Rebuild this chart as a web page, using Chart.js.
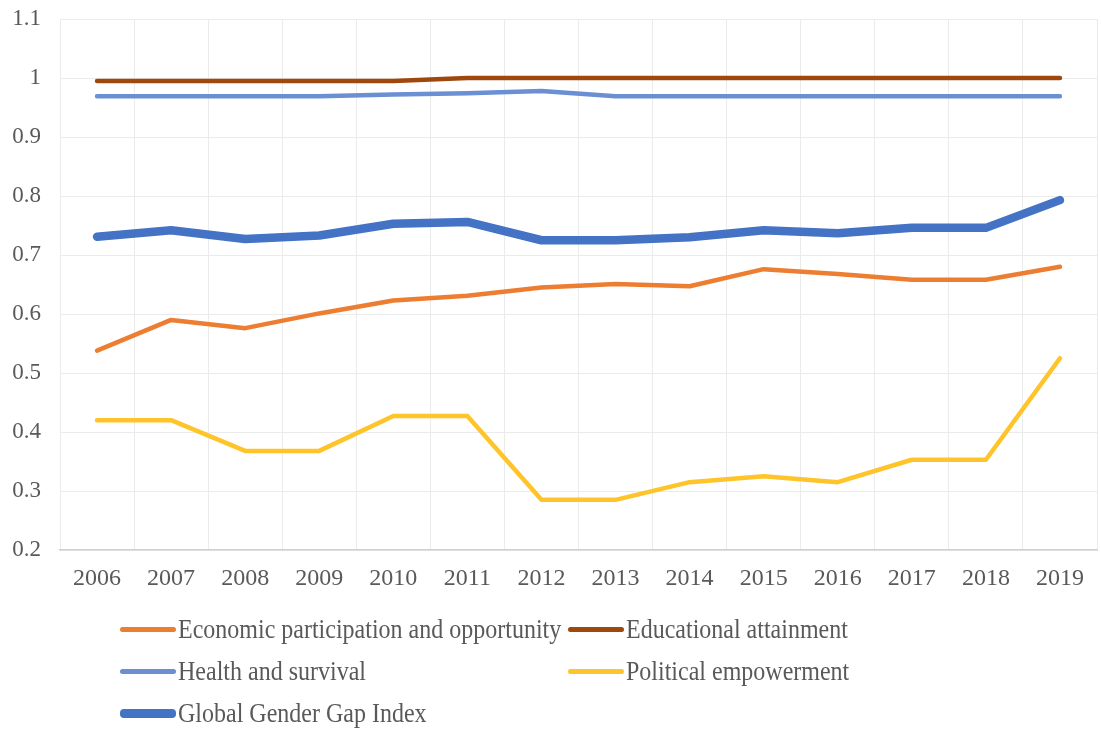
<!DOCTYPE html>
<html>
<head>
<meta charset="utf-8">
<script src="https://cdn.jsdelivr.net/npm/chart.js@4.4.1/dist/chart.umd.min.js"></script>
<style>
  html, body { margin: 0; padding: 0; background: #fff; }
  #wrap { position: relative; width: 1101px; height: 729px; }
  #c { position: absolute; left: 0; top: 0; }
  #legend { position: absolute; left: 0; top: 0; width: 1101px; height: 729px; pointer-events: none;
            font-family: "Liberation Serif", "Times New Roman", serif; font-size: 24px; color: #595959; }
  .item { position: absolute; display: flex; align-items: center; white-space: nowrap; height: 30px; }
  .swatch { width: 56px; border-radius: 4px; margin-right: 2px; }
  .txt { display: inline-block; transform: scaleY(1.15); transform-origin: center; }
</style>
</head>
<body>
<div id="wrap">
  <canvas id="c" width="1101" height="729"></canvas>
  <div id="legend"></div>
</div>
<script>
const years = ['2006','2007','2008','2009','2010','2011','2012','2013','2014','2015','2016','2017','2018','2019'];
const economic    = [0.538, 0.590, 0.576, 0.601, 0.623, 0.631, 0.645, 0.651, 0.647, 0.676, 0.668, 0.658, 0.658, 0.680];
const educational = [0.995, 0.995, 0.995, 0.995, 0.995, 1.000, 1.000, 1.000, 1.000, 1.000, 1.000, 1.000, 1.000, 1.000];
const health      = [0.969, 0.969, 0.969, 0.969, 0.972, 0.974, 0.978, 0.969, 0.969, 0.969, 0.969, 0.969, 0.969, 0.969];
const political   = [0.420, 0.420, 0.368, 0.368, 0.427, 0.427, 0.285, 0.285, 0.315, 0.325, 0.315, 0.353, 0.353, 0.525];
const gggi        = [0.731, 0.742, 0.727, 0.733, 0.753, 0.756, 0.725, 0.725, 0.730, 0.742, 0.737, 0.746, 0.746, 0.793];
const seriesNames = ['Economic participation and opportunity', 'Educational attainment', 'Health and survival', 'Political empowerment', 'Global Gender Gap Index'];
const yTicks = [0.2, 0.3, 0.4, 0.5, 0.6, 0.7, 0.8, 0.9, 1.0, 1.1];

const colors = ['#ED7D31', '#9E480E', '#6A8FD2', '#FFC42A', '#4472C4'];
const widths = [4.5, 4.5, 4.5, 4.5, 8.5];
const values = [economic, educational, health, political, gggi];

const datasets = values.map((v, i) => ({
  label: seriesNames[i],
  data: v,
  borderColor: colors[i],
  backgroundColor: colors[i],
  borderWidth: widths[i],
  pointRadius: 0,
  pointHoverRadius: 0,
  tension: 0,
  borderCapStyle: 'round',
  borderJoinStyle: 'round',
  fill: false
}));

const fontFam = '"Liberation Serif", "Times New Roman", serif';

new Chart(document.getElementById('c'), {
  type: 'line',
  data: { labels: years, datasets },
  options: {
    responsive: false,
    animation: false,
    events: [],
    layout: { padding: { top: 19, right: 4, left: 0, bottom: 129 } },
    plugins: { legend: { display: false }, tooltip: { enabled: false } },
    scales: {
      x: {
        offset: true,
        grid: { offset: true, color: '#EBEBEB', lineWidth: 1, drawTicks: false },
        border: { color: '#D0D0D0', width: 1.5 },
        ticks: { font: { family: fontFam, size: 24 }, color: '#595959', padding: 14, maxRotation: 0, autoSkip: false },
        afterFit: s => { s.height = 50; s.paddingLeft = 0; s.paddingRight = 0; }
      },
      y: {
        min: 0.2, max: 1.1,
        afterBuildTicks: s => { s.ticks = yTicks.map(v => ({ value: v })); },
        grid: { color: '#EBEBEB', lineWidth: 1, drawTicks: false },
        border: { display: false },
        ticks: { font: { family: fontFam, size: 23 }, color: '#595959', padding: 19, callback: v => String(Math.round(v * 10) / 10) },
        afterFit: s => { s.width = 60; s.paddingTop = 0; s.paddingBottom = 0; }
      }
    }
  }
});

// HTML legend
const legend = document.getElementById('legend');
const pos = [[120, 629], [568, 629], [120, 671], [568, 671], [120, 713]];
seriesNames.forEach((name, i) => {
  const it = document.createElement('div');
  it.className = 'item';
  it.style.left = pos[i][0] + 'px';
  it.style.top = (pos[i][1] - 15) + 'px';
  const sw = document.createElement('span');
  sw.className = 'swatch';
  sw.style.height = (i === 4 ? 9 : 5) + 'px';
  sw.style.background = colors[i];
  const tx = document.createElement('span');
  tx.className = 'txt';
  tx.textContent = name;
  it.appendChild(sw); it.appendChild(tx);
  legend.appendChild(it);
});
</script>
</body>
</html>
